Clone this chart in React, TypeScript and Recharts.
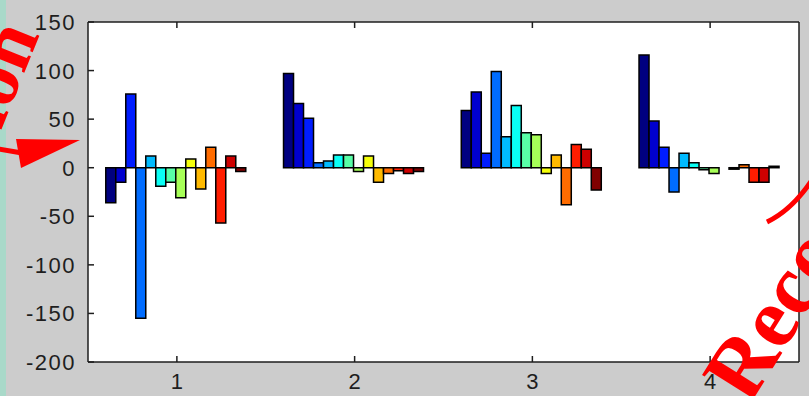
import { BarChart, Bar, XAxis, YAxis, CartesianGrid } from "recharts";

const categories = ["1", "2", "3", "4"];

// one array per group, 14 bars each (jet colormap order)
const group1 = [-36, -15, 76, -155, 12, -19, -15, -31, 9, -22, 21, -57, 12, -4];
const group2 = [97, 66, 51, 5, 7, 13, 13, -4, 12, -15, -6, -3, -6, -4];
const group3 = [59, 78, 15, 99, 32, 64, 36, 34, -6, 13, -38, 24, 19, -23];
const group4 = [116, 48, 21, -25, 15, 5, -2, -6, 0, -1.5, 3, -15, -15, 1.5];

const jetColors = [
  "#000080", "#0000ce", "#001dff", "#006cff", "#00baff", "#0afff5", "#58ffa7",
  "#a7ff58", "#f5ff0a", "#ffba00", "#ff6c00", "#ff1d00", "#ce0000", "#800000",
];

const yTicks = [-200, -150, -100, -50, 0, 50, 100, 150];

const groups = [group1, group2, group3, group4];
const data = categories.map((name, i) => {
  const row: Record<string, number | string> = { name };
  groups[i].forEach((v, k) => {
    row[`b${k}`] = v;
  });
  return row;
});

const PLOT_LEFT = 88;
const PLOT_RIGHT = 799;
const PLOT_TOP = 22;
const PLOT_BOTTOM = 362;
const TICK_LEN = 6;
const AXIS_COLOR = "#1e1e1e";
const labelFont = { fontFamily: "Liberation Sans, Arial, sans-serif", fontSize: 22, fill: "#1e1e1e" };

function LeftTick(props: any) {
  const { y, payload } = props;
  return (
    <g>
      <line x1={PLOT_LEFT} x2={PLOT_LEFT + TICK_LEN} y1={y} y2={y} stroke={AXIS_COLOR} strokeWidth={1.5} />
      <text x={76} y={y + 8} textAnchor="end" letterSpacing={1.5} {...labelFont}>
        {payload.value}
      </text>
    </g>
  );
}

function RightTick(props: any) {
  const { y } = props;
  return <line x1={PLOT_RIGHT} x2={PLOT_RIGHT - TICK_LEN} y1={y} y2={y} stroke={AXIS_COLOR} strokeWidth={1.5} />;
}

function BottomTick(props: any) {
  const { x, payload } = props;
  return (
    <g>
      <line x1={x} x2={x} y1={PLOT_BOTTOM} y2={PLOT_BOTTOM - TICK_LEN} stroke={AXIS_COLOR} strokeWidth={1.5} />
      <text x={x} y={389} textAnchor="middle" {...labelFont}>
        {payload.value}
      </text>
    </g>
  );
}

function TopTick(props: any) {
  const { x } = props;
  return <line x1={x} x2={x} y1={PLOT_TOP} y2={PLOT_TOP + TICK_LEN} stroke={AXIS_COLOR} strokeWidth={1.5} />;
}

export default function App() {
  return (
    <div style={{ position: "absolute", left: 0, top: 0, width: 809, height: 396, background: "#cccccc", overflow: "hidden" }}>
      <div style={{ position: "absolute", left: 0, top: 0, width: 6, height: 396, background: "#a9d9c9" }} />
      <BarChart
        width={809}
        height={396}
        data={data}
        barCategoryGap="10%"
        barGap={0}
        margin={{ top: 20, right: 0, bottom: 0, left: 28 }}
      >
        <CartesianGrid horizontal={false} vertical={false} fill="#ffffff" />
        <XAxis
          dataKey="name"
          height={34}
          axisLine={{ stroke: AXIS_COLOR, strokeWidth: 1.5 }}
          tickLine={false}
          tick={<BottomTick />}
        />
        <XAxis
          xAxisId="top"
          dataKey="name"
          orientation="top"
          height={2}
          axisLine={{ stroke: AXIS_COLOR, strokeWidth: 1.5 }}
          tickLine={false}
          tick={<TopTick />}
        />
        <YAxis
          type="number"
          domain={[-200, 150]}
          ticks={yTicks}
          width={60}
          axisLine={{ stroke: AXIS_COLOR, strokeWidth: 1.5 }}
          tickLine={false}
          tick={<LeftTick />}
        />
        <YAxis
          yAxisId="right"
          orientation="right"
          type="number"
          domain={[-200, 150]}
          ticks={yTicks}
          width={10}
          axisLine={{ stroke: AXIS_COLOR, strokeWidth: 1.5 }}
          tickLine={false}
          tick={<RightTick />}
        />
        {jetColors.map((color, k) => (
          <Bar key={k} dataKey={`b${k}`} fill={color} stroke="#000" strokeWidth={1.5} isAnimationActive={false} />
        ))}
      </BarChart>
      <svg width={809} height={396} style={{ position: "absolute", left: 0, top: 0, pointerEvents: "none" }}>
        <g fill="#ff0000" fontFamily="Liberation Serif, Times New Roman, serif" fontWeight="bold">
          <text x={-9} y={155} fontSize={78} transform="rotate(-68 -9 155)">tion</text>
          <text x={749} y={406} fontSize={86} transform="rotate(-58 749 406)">Reco</text>
        </g>
        <line x1={-2} y1={149} x2={22} y2={153} stroke="#ff0000" strokeWidth={5} />
        <polygon points="80,140 16,139 21,168" fill="#ff0000" />
        <path d="M767 222 Q792 210 812 180" stroke="#ff0000" strokeWidth={5} fill="none" />
      </svg>
    </div>
  );
}
